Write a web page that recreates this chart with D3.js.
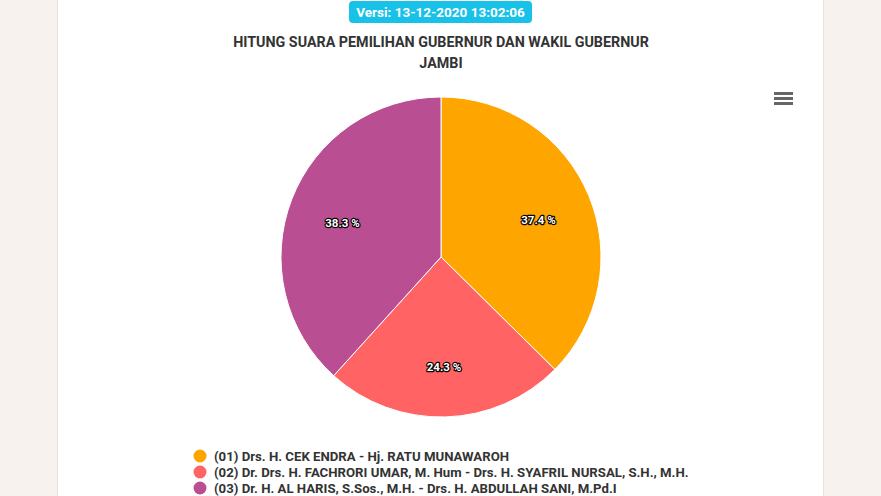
<!DOCTYPE html>
<html><head><meta charset="utf-8">
<script src="https://cdn.jsdelivr.net/npm/d3@7"></script>
<style>
html,body{margin:0;padding:0;background:#f7f2ee;}
svg{display:block;font-family:Roboto, "Open Sans", sans-serif;}
</style></head>
<body>
<svg id="chart" width="881" height="496"></svg>
<script>
const version = "Versi: 13-12-2020 13:02:06";
const titleLines = ["HITUNG SUARA PEMILIHAN GUBERNUR DAN WAKIL GUBERNUR", "JAMBI"];
const categories = [
  "(01) Drs. H. CEK ENDRA - Hj. RATU MUNAWAROH",
  "(02) Dr. Drs. H. FACHRORI UMAR, M. Hum - Drs. H. SYAFRIL NURSAL, S.H., M.H.",
  "(03) Dr. H. AL HARIS, S.Sos., M.H. - Drs. H. ABDULLAH SANI, M.Pd.I"
];
const values = [37.4, 24.3, 38.3];
const colors = ["#ffa500", "#ff6363", "#ba4e92"];

const svg = d3.select("#chart");
// panel
svg.append("rect").attr("x", 57.5).attr("y", -1).attr("width", 766).attr("height", 500)
  .attr("fill", "#fff").attr("stroke", "#e6e2de").attr("stroke-width", 1);

// version badge
const badge = svg.append("g");
badge.append("rect").attr("x", 349).attr("y", 1).attr("width", 183).attr("height", 22).attr("rx", 4)
  .attr("fill", "#17c1e8");
badge.append("text").attr("x", 440.5).attr("y", 17).attr("text-anchor", "middle")
  .attr("fill", "#fff").attr("font-size", 13.5).attr("font-weight", 700).text(version);

// title
svg.append("g").selectAll("text").data(titleLines).join("text")
  .attr("x", 441).attr("y", (d, i) => 47 + i * 21).attr("text-anchor", "middle")
  .attr("fill", "#333").attr("font-size", 14.3).attr("font-weight", 700).text(d => d);

// menu icon
svg.append("g").selectAll("rect").data([0,1,2]).join("rect")
  .attr("x", 774).attr("y", d => 92 + d * 5).attr("width", 19).attr("height", 3)
  .attr("fill", "#666");

// pie
const cx = 441, cy = 257, r = 160;
const pie = d3.pie().sort(null).value(d => d);
const arcs = pie(values);
const arc = d3.arc().innerRadius(0).outerRadius(r);
const labelArc = d3.arc().innerRadius(r * 0.66).outerRadius(r * 0.66);
const g = svg.append("g").attr("transform", `translate(${cx},${cy})`);
g.selectAll("path").data(arcs).join("path")
  .attr("d", arc).attr("fill", (d, i) => colors[i])
  .attr("stroke", "#fff").attr("stroke-width", 1).attr("stroke-linejoin", "round");

g.selectAll("text.lbl").data(arcs).join("text").attr("class", "lbl")
  .attr("transform", d => { const c = labelArc.centroid(d); return `translate(${c[0]},${c[1] + 4})`; })
  .attr("text-anchor", "middle").attr("dy", "0.35em")
  .attr("font-size", 11.5).attr("font-weight", 700)
  .attr("fill", "#fff").attr("stroke", "#000").attr("stroke-width", 2.4)
  .attr("stroke-linejoin", "round").attr("paint-order", "stroke")
  .text(d => d.data.toFixed(1) + " %");

// legend
const leg = svg.append("g").selectAll("g").data(categories).join("g")
  .attr("transform", (d, i) => `translate(200,${456 + i * 16})`);
leg.append("circle").attr("r", 6.5).attr("fill", (d, i) => colors[i]);
leg.append("text").attr("x", 14).attr("dy", "0.35em").attr("fill", "#333")
  .attr("font-size", 13.2).attr("font-weight", 700).text(d => d);
</script>
</body></html>
